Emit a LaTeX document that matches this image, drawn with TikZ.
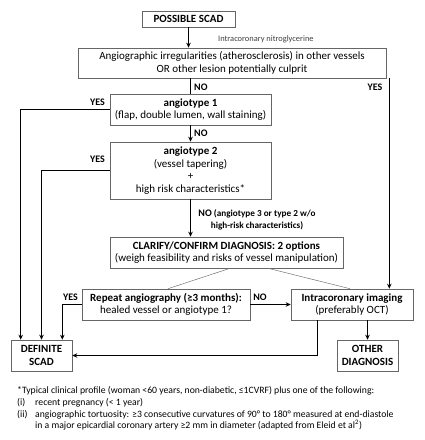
\documentclass[tikz,border=0pt]{standalone}
\usepackage{fontspec}
\setmainfont{Carlito}
\usetikzlibrary{arrows.meta,calc}
\begin{document}
\begin{tikzpicture}[x=1pt,y=-1pt,
  box/.style={draw=black!60,line width=0.6pt,inner sep=0pt,align=center,font=\fontsize{11}{12.6}\selectfont},
  bbox/.style={box,font=\bfseries\fontsize{11}{12.6}\selectfont},
  arr/.style={line width=0.9pt,-{Stealth[length=5pt,width=4.5pt]}},
  ln/.style={line width=0.9pt},
  thin/.style={draw=black!55,line width=0.5pt},
  lab/.style={inner sep=0pt,font=\bfseries\fontsize{10}{12}\selectfont},
  fn/.style={inner sep=0pt,anchor=base west,font=\fontsize{9.7}{11}\selectfont}]
\useasboundingbox (0,0) rectangle (424,440);
\node[bbox,minimum width=93,minimum height=16] (ps) at (188.5,19) {POSSIBLE SCAD};
\node[box,minimum width=308,minimum height=30] (big) at (232,63) {Angiographic irregularities (atherosclerosis) in other vessels\\OR other lesion potentially culprit};
\node[box,minimum width=161,minimum height=31] (a1) at (190.5,109.5) {\textbf{angiotype 1}\\(flap, double lumen, wall staining)};
\node[box,minimum width=161,minimum height=57] (a2) at (190.5,170.5) {\textbf{angiotype 2}\\(vessel tapering)\\+\\high risk characteristics*};
\node[box,minimum width=233,minimum height=31] (cl) at (226.5,252.5) {\textbf{CLARIFY/CONFIRM DIAGNOSIS: 2 options}\\(weigh feasibility and risks of vessel manipulation)};
\node[box,minimum width=168,minimum height=31] (rep) at (166,304.5) {\textbf{Repeat angiography (≥3 months):}\\healed vessel or angiotype 1?};
\node[box,minimum width=122,minimum height=31] (ic) at (352,304.5) {\textbf{Intracoronary imaging}\\(preferably OCT)};
\node[bbox,minimum width=61,minimum height=31] (def) at (41.5,355.5) {DEFINITE\\SCAD};
\node[bbox,minimum width=61,minimum height=31] (oth) at (367.5,355.5) {OTHER\\DIAGNOSIS};
% connectors
\draw[arr] (ps.south) -- (ps.south |- big.north);
\draw[ln] (a1.north |- big.south) -- (a1.north);
\draw[arr] ([xshift=3pt]big.south east) -- ([xshift=3pt]big.south east |- ic.north);
\draw[arr] (a1.south) -- (a2.north);
\draw[arr] (a1.west) -| ($(def.north west)+(10,0)$);
\draw[arr] (a2.west) -| (def.north);
\draw[arr] (a2.south) -- (a2.south |- cl.north);
\draw[thin] ([xshift=3.5pt]cl.south) -- ([xshift=2pt]rep.north);
\draw[thin] ([xshift=41.5pt]cl.south) -- ([xshift=-2pt]ic.north);
\draw[arr] (rep.west) -| ($(def.north east)+(-10,0)$);
\draw[arr] (rep.east) -- (ic.west);
\draw[arr] (oth.north |- ic.south) -- (oth.north);
\draw[arr] ([xshift=-35pt]ic.south) |- (def.east);
% labels
\node[inner sep=0pt,anchor=west,text=black!75,font=\fontsize{8.4}{9}\selectfont] (nitro) at (218,39) {Intracoronary nitroglycerine};
\node[lab,anchor=west] (no1) at (194,87) {NO};
\node[lab] (yes1) at (375,87) {YES};
\node[lab] (yes2) at (97.5,102) {YES};
\node[lab,anchor=west] (no2) at (194,133) {NO};
\node[lab] (yes3) at (97.5,159) {YES};
\node[lab,align=center,font=\bfseries\fontsize{9.2}{12}\selectfont] (no3) at (257,220) {{\fontsize{10}{12}\selectfont NO} (angiotype 3 or type 2 w/o\\high-risk characteristics)};
\node[lab] (yes4) at (70.5,297) {YES};
\node[lab] (no4) at (260,297) {NO};
% footnote
\node[fn] (f1) at (17,393) {*Typical clinical profile (woman <60 years, non-diabetic, ≤1CVRF) plus one of the following:};
\node[fn] (f2a) at (17,405) {(i)};
\node[fn] (f2b) at (35,405) {recent pregnancy (< 1 year)};
\node[fn] (f3a) at (17,417) {(ii)};
\node[fn] (f3b) at (35,417) {angiographic tortuosity: ≥3 consecutive curvatures of 90° to 180° measured at end-diastole};
\node[fn] (f4) at (35,428.5) {in a major epicardial coronary artery ≥2 mm in diameter (adapted from Eleid et al\textsuperscript{2})};
\end{tikzpicture}
\end{document}
